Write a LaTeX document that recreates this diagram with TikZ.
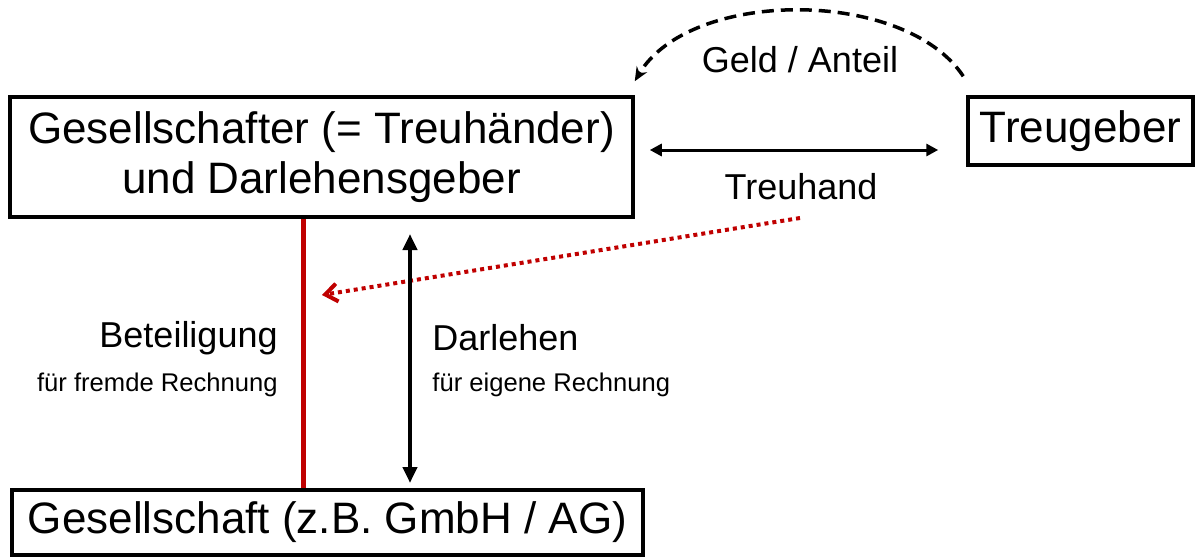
\documentclass[tikz,border=0pt]{standalone}
\usepackage{fontspec}
\setmainfont{Liberation Sans}
\usetikzlibrary{arrows.meta,calc,positioning}
\definecolor{darkred}{RGB}{192,0,0}

\begin{document}
\begin{tikzpicture}[x=0.5pt,y=-0.5pt,
            box/.style={rectangle,draw=black,line width=1.75pt,inner sep=0pt,align=center,font=\fontsize{22}{25}\selectfont},
            lbl/.style={font=\fontsize{18}{21}\selectfont,inner sep=0pt},
            note/.style={font=\fontsize{12.8}{15}\selectfont,inner sep=0pt},
            twoway/.style={{Triangle[length=6pt,width=6pt]}-{Triangle[length=6pt,width=6pt]}},
            bigway/.style={{Triangle[length=8pt,width=7pt]}-{Triangle[length=8pt,width=7pt]}}]

            \useasboundingbox (0,0) rectangle (1200,557);

            % boxes
            \node[box,minimum width=311.5pt,minimum height=60pt] (gesellschafter) at (321.5,157) {Gesellschafter (= Treuh\"ander)\\und Darlehensgeber};
            \node[box,minimum width=112.5pt,minimum height=34pt] (treugeber) at (1080.5,131) {Treugeber};
            \node[box,minimum width=315.5pt,minimum height=32.5pt] (gesellschaft) at (327.5,522.5) {Gesellschaft (z.B. GmbH / AG)};

            % free ends
            \coordinate (geldA) at ($(treugeber.north west)+(-3,-19)$);
            \coordinate (geldB) at ($(gesellschafter.north east)+(0,-14)$);
            \coordinate (treuA) at ($(gesellschafter.east)+(15,-7)$);
            \coordinate (treuB) at ($(treugeber.west)+(-28,19)$);
            \coordinate (hinweisA) at (800,218);
            \coordinate (hinweisB) at (322,295);
            \coordinate (darlA) at (410,234);
            \coordinate (darlB) at (410,483);

            % connectors
            \draw[line width=1.75pt,dash pattern=on 6pt off 3.5pt,-{Stealth[length=7pt,width=6pt]}] (geldA) .. controls (905,-12) and (690,-12) .. (geldB);
            \draw[line width=1.5pt,twoway] (treuA) -- (treuB);
            \draw[darkred,line width=2pt,dash pattern=on 2pt off 2pt,-{Straight Barb[length=6pt,width=9pt]}] (hinweisA) -- (hinweisB);
            \draw[darkred,line width=2.5pt] (gesellschafter.south -| 303,0) -- (gesellschaft.north -| 303,0);
            \draw[line width=2pt,bigway] (darlA) -- (darlB);

            % labels
            \node[lbl] (geld) at (800,60) {Geld / Anteil};
            \node[lbl] (treuhand) at (801,187) {Treuhand};
            \node[lbl,anchor=east] (beteiligung) at (278,338) {Beteiligung};
            \node[note,anchor=east] (fremd) at (278,385) {f\"ur fremde Rechnung};
            \node[lbl,anchor=west] (darlehen) at (432,338) {Darlehen};
            \node[note,anchor=west] (eigen) at (432,385) {f\"ur eigene Rechnung};
         \end{tikzpicture}
\end{document}
